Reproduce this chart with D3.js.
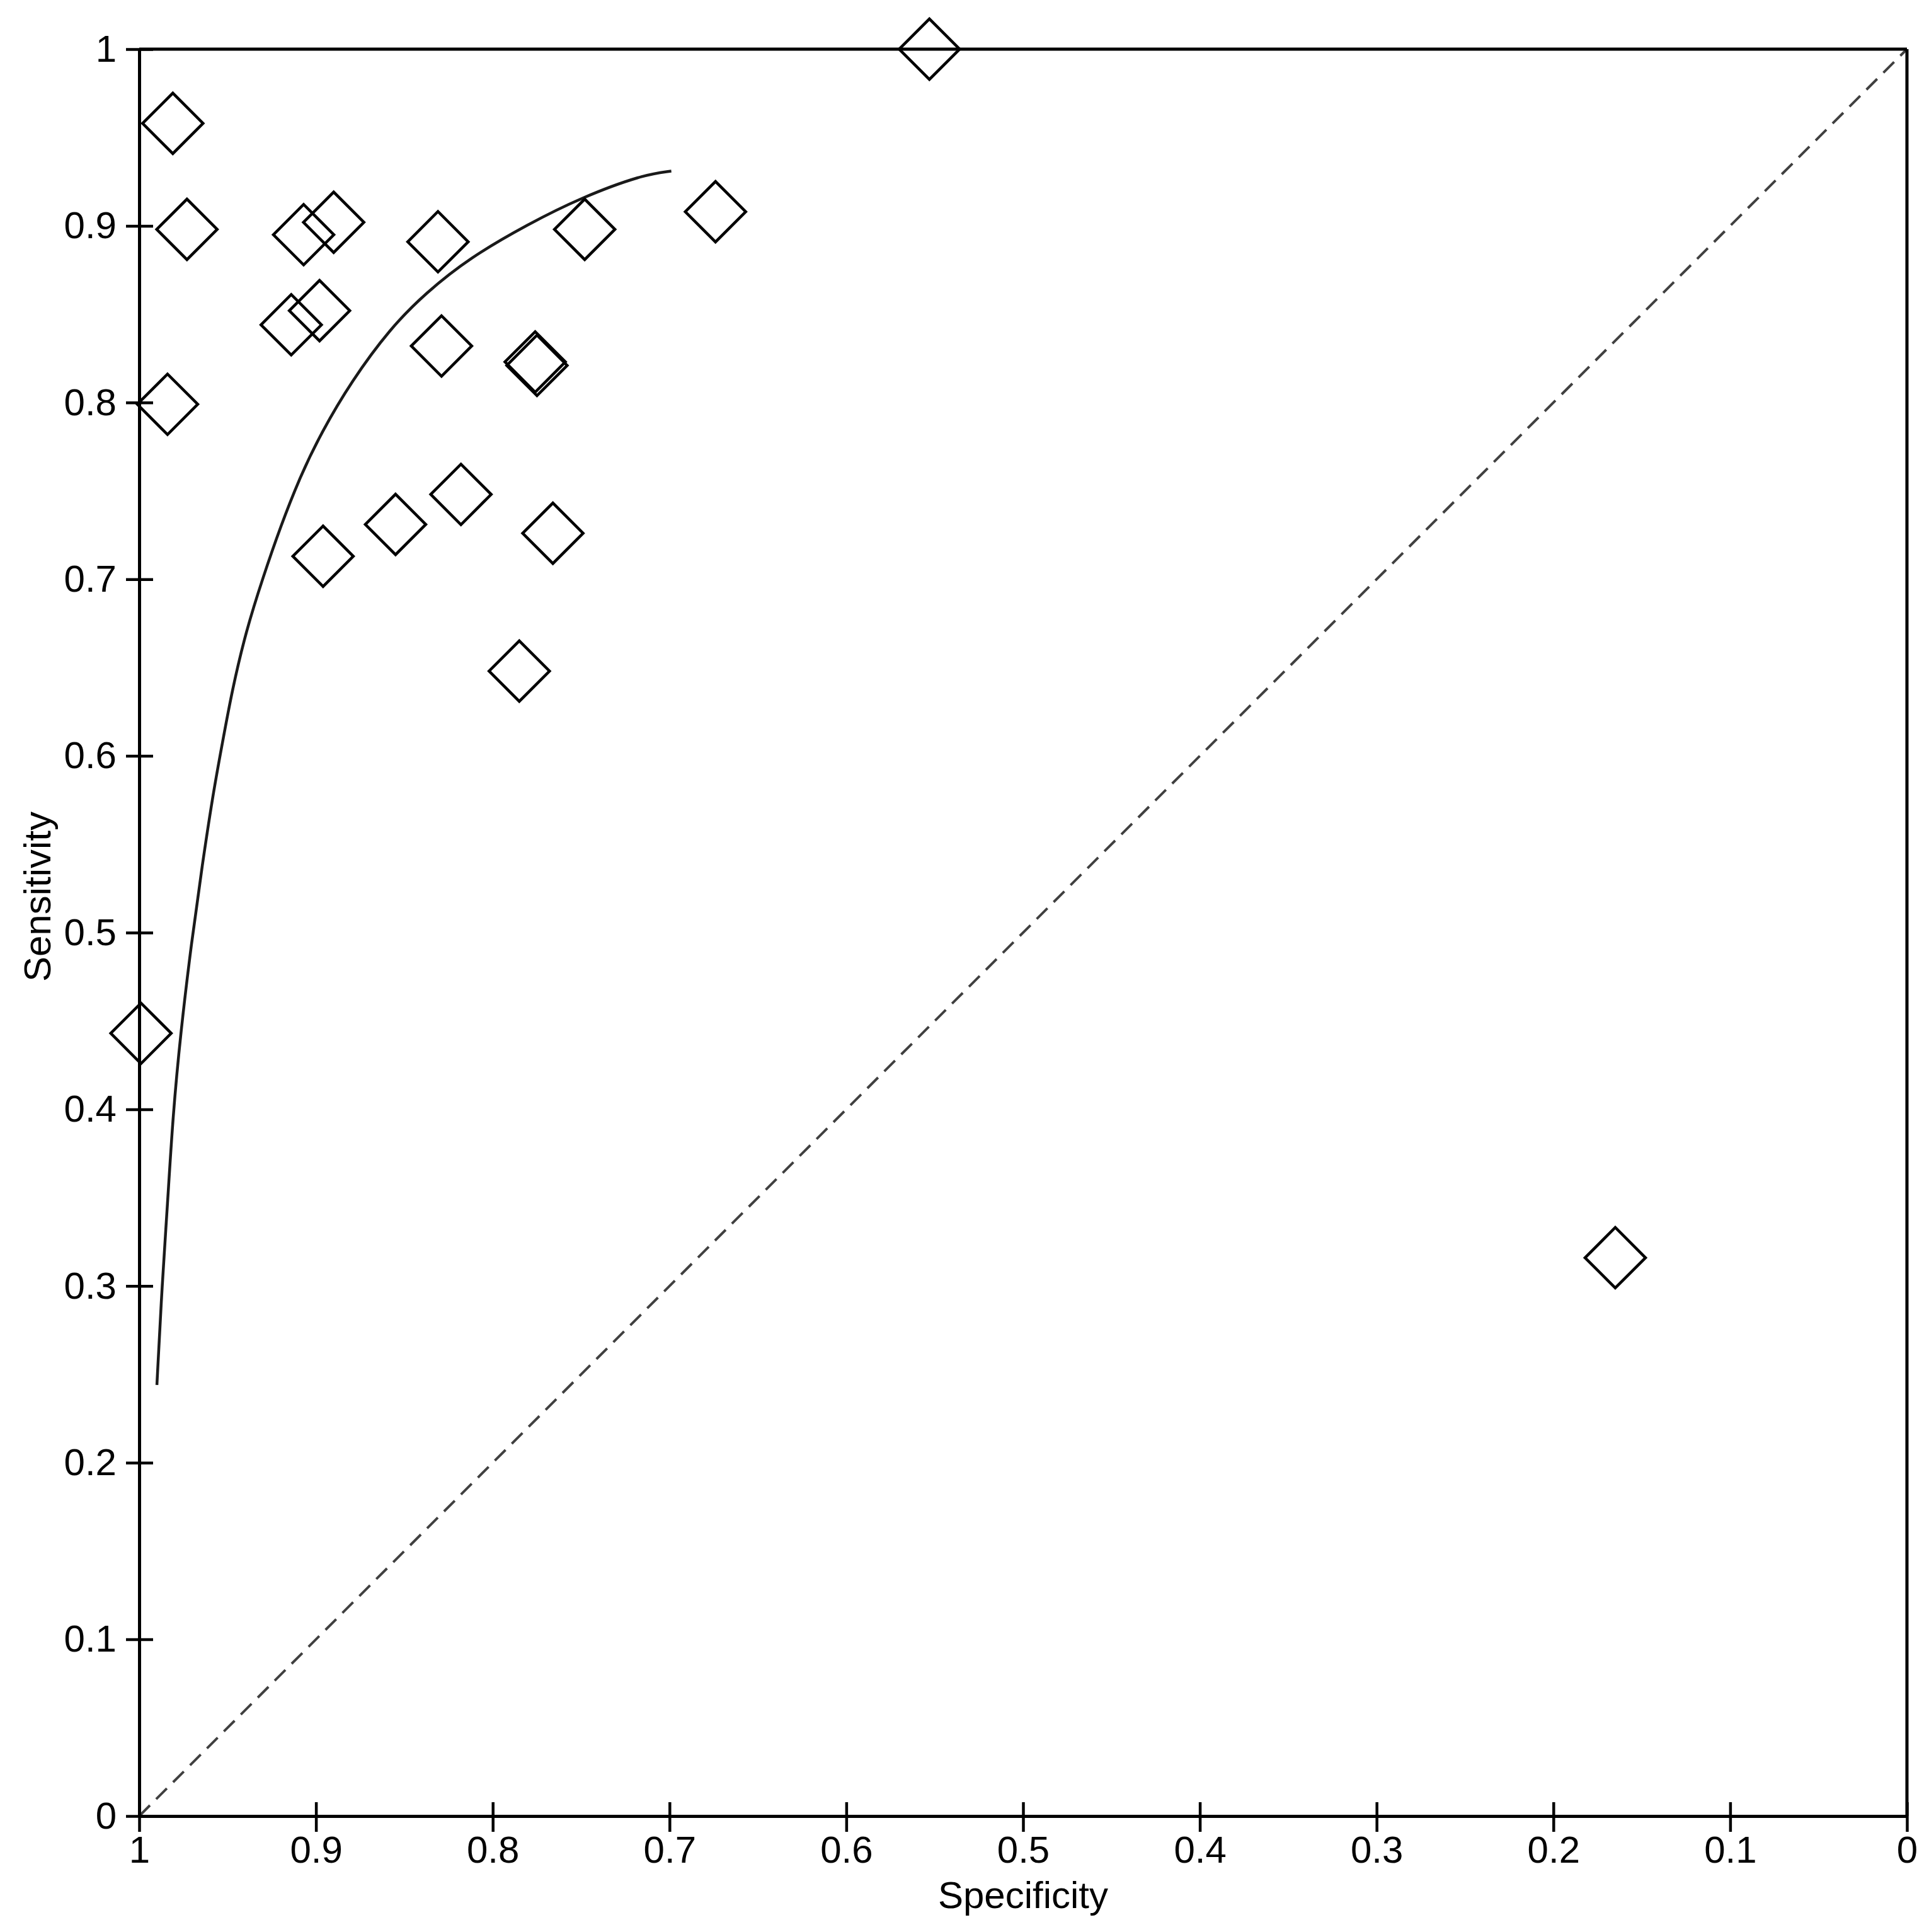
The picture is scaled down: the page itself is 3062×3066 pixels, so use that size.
<!DOCTYPE html>
<html>
<head>
<meta charset="utf-8">
<script src="https://cdn.jsdelivr.net/npm/d3@7"></script>
<style>
  html, body { margin: 0; padding: 0; background: #ffffff; }
  svg { display: block; }
</style>
</head>
<body>
<script>
// ---- Data ----
const studySpecificity = [0.553, 0.981, 0.973, 0.907, 0.890, 0.831, 0.748, 0.674, 0.914, 0.898, 0.829, 0.776, 0.775, 0.984, 0.818, 0.855, 0.766, 0.896, 0.785, 0.999, 0.165];
const studySensitivity = [1.000, 0.958, 0.898, 0.895, 0.902, 0.891, 0.898, 0.908, 0.844, 0.852, 0.832, 0.823, 0.821, 0.799, 0.748, 0.731, 0.726, 0.713, 0.648, 0.443, 0.316];

const srocSpecificity = [0.699, 0.715, 0.750, 0.780, 0.813, 0.838, 0.858, 0.880, 0.897, 0.909, 0.920, 0.930, 0.9395, 0.9475, 0.953, 0.958, 0.9644, 0.9705, 0.9765, 0.981, 0.984, 0.987, 0.990];
const srocSensitivity = [0.931, 0.929, 0.916, 0.901, 0.882, 0.862, 0.842, 0.812, 0.783, 0.758, 0.730, 0.701, 0.671, 0.637, 0.607, 0.580, 0.538, 0.494, 0.444, 0.396, 0.346, 0.302, 0.244];

const xTickValues = [1, 0.9, 0.8, 0.7, 0.6, 0.5, 0.4, 0.3, 0.2, 0.1, 0];
const xTickLabels = ["1", "0.9", "0.8", "0.7", "0.6", "0.5", "0.4", "0.3", "0.2", "0.1", "0"];
const yTickValues = [0, 0.1, 0.2, 0.3, 0.4, 0.5, 0.6, 0.7, 0.8, 0.9, 1];
const yTickLabels = ["0", "0.1", "0.2", "0.3", "0.4", "0.5", "0.6", "0.7", "0.8", "0.9", "1"];

const xTitle = "Specificity";
const yTitle = "Sensitivity";

// ---- Layout ----
const W = 3062, H = 3066;
const plotLeft = 221, plotRight = 3027, plotTop = 78, plotBottom = 2882;
const font = "'Liberation Sans', Arial, sans-serif";
const fontSize = 60;

const svg = d3.select("body").append("svg")
  .attr("width", W).attr("height", H)
  .attr("viewBox", `0 0 ${W} ${H}`);
svg.append("rect").attr("width", W).attr("height", H).attr("fill", "#fff");

const x = d3.scaleLinear().domain([1, 0]).range([plotLeft, plotRight]);
const y = d3.scaleLinear().domain([0, 1]).range([plotBottom, plotTop]);

// diagonal reference line
svg.append("line")
  .attr("x1", x(1)).attr("y1", y(0))
  .attr("x2", x(0)).attr("y2", y(1))
  .attr("stroke", "#404040").attr("stroke-width", 4)
  .attr("stroke-dasharray", "24,14");

// frame (top & right)
svg.append("line").attr("x1", x(1)).attr("x2", x(0)).attr("y1", y(1)).attr("y2", y(1))
  .attr("stroke", "#000").attr("stroke-width", 5);
svg.append("line").attr("x1", x(0)).attr("x2", x(0)).attr("y1", y(1)).attr("y2", y(0))
  .attr("stroke", "#000").attr("stroke-width", 5);

// x axis
const xAxis = d3.axisBottom(x)
  .tickValues(xTickValues)
  .tickFormat((d, i) => xTickLabels[i])
  .tickSizeInner(25).tickSizeOuter(0).tickPadding(6);
const gx = svg.append("g").attr("transform", `translate(0,${plotBottom})`).call(xAxis);
gx.select(".domain").attr("stroke", "#000").attr("stroke-width", 5);
gx.selectAll(".tick line").attr("y1", -22).attr("y2", 25).attr("stroke", "#000").attr("stroke-width", 4.5);
gx.selectAll(".tick text").attr("font-family", font).attr("font-size", fontSize).attr("fill", "#000");

// y axis
const yAxis = d3.axisLeft(y)
  .tickValues(yTickValues)
  .tickFormat((d, i) => yTickLabels[i])
  .tickSizeInner(21).tickSizeOuter(0).tickPadding(15);
const gy = svg.append("g").attr("transform", `translate(${plotLeft},0)`).call(yAxis);
gy.select(".domain").attr("stroke", "#000").attr("stroke-width", 5);
gy.selectAll(".tick line").attr("x1", -21).attr("x2", 22).attr("stroke", "#000").attr("stroke-width", 4.5);
gy.selectAll(".tick text").attr("font-family", font).attr("font-size", fontSize).attr("fill", "#000");
svg.selectAll(".domain").attr("fill", "none");

// SROC curve
const srocPts = srocSpecificity.map((s, i) => [s, srocSensitivity[i]]);
const line = d3.line().x(d => x(d[0])).y(d => y(d[1])).curve(d3.curveBasis);
svg.append("path").datum(srocPts)
  .attr("d", line)
  .attr("fill", "none").attr("stroke", "#1a1a1a").attr("stroke-width", 4.5);

// study points (open diamonds)
const diamond = d3.symbol().type(d3.symbolSquare).size(4608);
const pts = studySpecificity.map((s, i) => ({ s, t: studySensitivity[i] }));
svg.append("g").selectAll("path").data(pts).join("path")
  .attr("d", diamond)
  .attr("transform", d => `translate(${x(d.s)},${y(d.t)}) rotate(45)`)
  .attr("fill", "none").attr("stroke", "#000").attr("stroke-width", 4.5);

// axis titles
svg.append("text")
  .attr("x", (plotLeft + plotRight) / 2).attr("y", 3028)
  .attr("text-anchor", "middle")
  .attr("font-family", font).attr("font-size", fontSize).attr("fill", "#000")
  .text(xTitle);
svg.append("text")
  .attr("transform", `translate(80,1423) rotate(-90)`)
  .attr("text-anchor", "middle")
  .attr("font-family", font).attr("font-size", fontSize).attr("fill", "#000")
  .text(yTitle);
</script>
</body>
</html>
